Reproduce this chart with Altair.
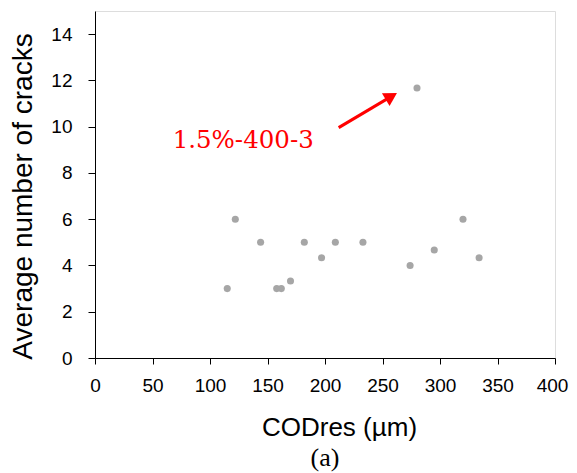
import altair as alt
import pandas as pd

# data
cod_res = [115, 122, 144, 158, 162, 170, 182, 197, 209, 233, 274, 280, 295, 320, 334]
avg_cracks = [3.0, 6.0, 5.0, 3.0, 3.0, 3.33, 5.0, 4.33, 5.0, 5.0, 4.0, 11.67, 4.67, 6.0, 4.33]

x_ticks = [0, 50, 100, 150, 200, 250, 300, 350, 400]
y_ticks = [0, 2, 4, 6, 8, 10, 12, 14]

label_text = ["1.5%-400-3"]
label_x = [67.5]
label_y = [9.08]

arrow_x0 = [211.9]
arrow_y0 = [9.96]
arrow_x1 = [257.7]
arrow_y1 = [11.31]

df = pd.DataFrame({"cod": cod_res, "cracks": avg_cracks})
lab = pd.DataFrame({"x": label_x, "y": label_y, "t": label_text})
arr = pd.DataFrame({"x": arrow_x0, "y": arrow_y0, "x2": arrow_x1, "y2": arrow_y1})

xscale = alt.Scale(domain=[0, 400], nice=False, zero=True)
yscale = alt.Scale(domain=[0, 15], nice=False, zero=True)

xaxis = alt.Axis(values=x_ticks, title="CODres (µm)", grid=False,
                 domainColor="black", tickColor="black", tickSize=6,
                 labelFont="Liberation Sans", labelFontSize=19, labelColor="black",
                 labelPadding=12, labelFlush=False,
                 labelOffset=alt.condition("datum.value == 400", alt.value(-3), alt.value(0)),
                 titleFont="Liberation Sans", titleFontSize=26, titleFontWeight="normal",
                 titleColor="black", titleX=244, titleY=56)
yaxis = alt.Axis(values=y_ticks, title="Average number of cracks", grid=False,
                 domainColor="black", tickColor="black", tickSize=7,
                 labelFont="Liberation Sans", labelFontSize=19, labelColor="black",
                 labelPadding=16, labelFlush=False,
                 titleFont="Liberation Sans", titleFontSize=28, titleFontWeight="normal",
                 titleColor="black", titleX=-58, titleY=185)

points = alt.Chart(df).mark_circle(size=50, color="#a6a6a6", opacity=1).encode(
    x=alt.X("cod:Q", scale=xscale, axis=xaxis),
    y=alt.Y("cracks:Q", scale=yscale, axis=yaxis),
)

arrow_line = alt.Chart(arr).mark_rule(color="#ff0000", strokeWidth=3).encode(
    x="x:Q", y="y:Q", x2="x2:Q", y2="y2:Q"
)
arrow_head = alt.Chart(arr).mark_point(shape="triangle-up", filled=True, size=225,
                                       color="#ff0000", opacity=1, angle=59.4).encode(
    x="x2:Q", y="y2:Q"
)

text = alt.Chart(lab).mark_text(font="DejaVu Serif", fontSize=24.5, color="#ff0000",
                                align="left", baseline="alphabetic").encode(
    x="x:Q", y="y:Q", text="t:N"
)

chart = alt.layer(points, arrow_line, arrow_head, text).properties(
    width=460, height=347,
    title=alt.TitleParams("(a)", orient="bottom", font="Liberation Serif", fontSize=26,
                          fontWeight="normal", color="black", anchor="middle", offset=5),
    autosize=alt.AutoSizeParams(type="none"),
    padding={"left": 87, "top": 3, "right": 14, "bottom": 115},
).configure_view(stroke="black", strokeWidth=1.3).configure(background="white")

chart.save("out.html", embed_options={"renderer": "svg", "actions": False})
